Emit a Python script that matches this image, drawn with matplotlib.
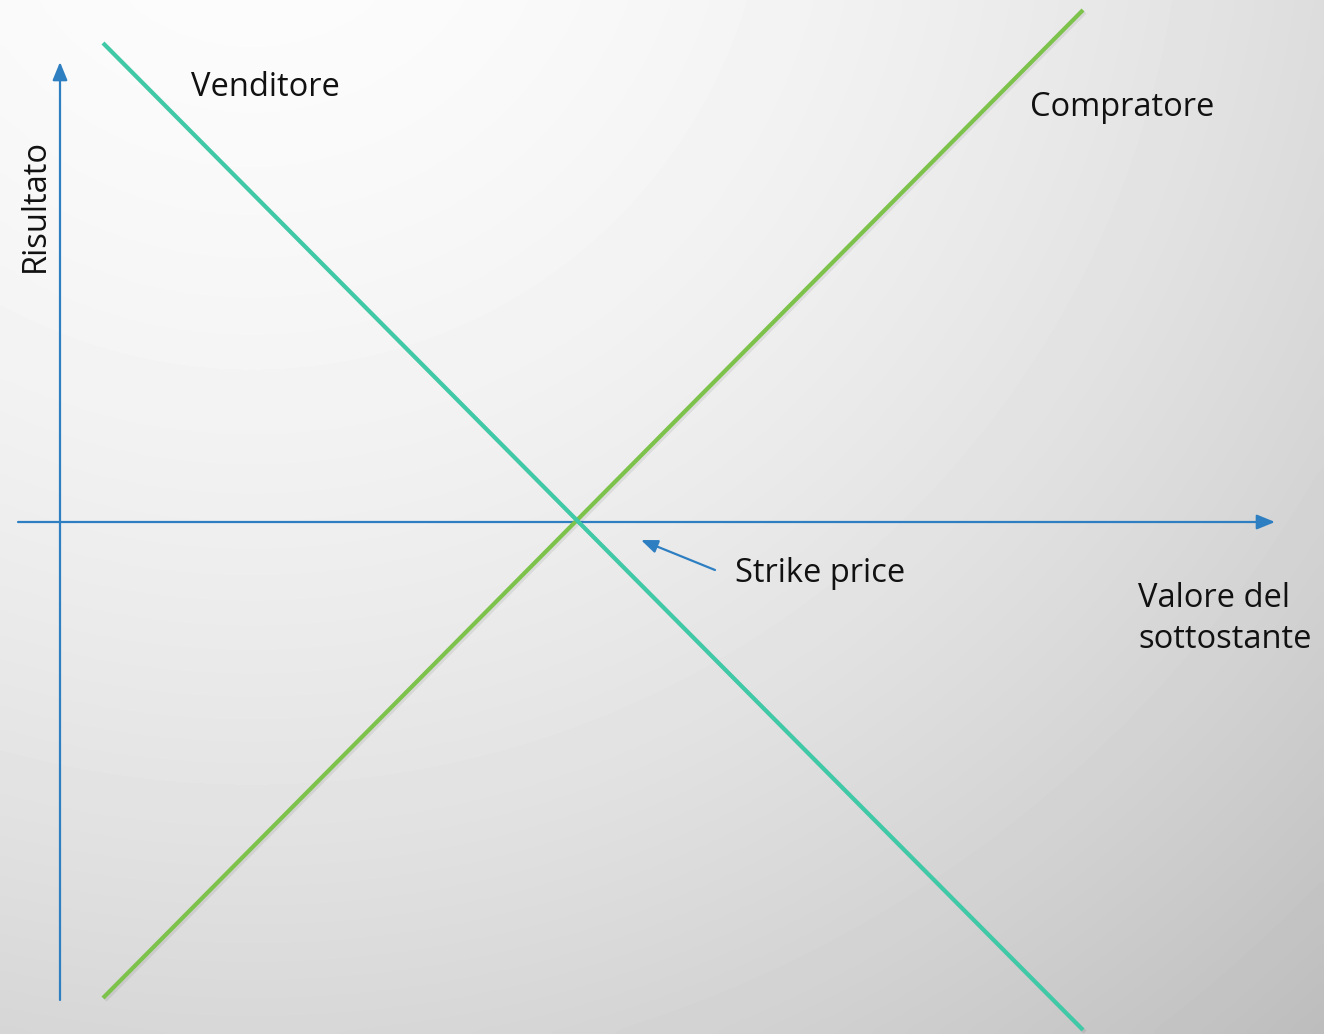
import numpy as np
import matplotlib.pyplot as plt
import matplotlib.patheffects as pe

# diagram coordinates (pixel-like units, y grows downward)
strike = (577, 522)
venditore_x = [103, 1083]
venditore_y = [43, 1030]
compratore_x = [103, 1083]
compratore_y = [998, 10]

y_axis_x = 60
y_axis_span = [1000, 62]
x_axis_y = 522
x_axis_span = [18, 1275]

labels = {
    "Venditore": (191, 88),
    "Compratore": (1030, 107),
    "Strike price": (735, 573),
    "Valore del\nsottostante": (1138, 619),
}

W, H = 1324, 1034
fig = plt.figure(figsize=(W / 100, H / 100), dpi=100)
ax = fig.add_axes([0, 0, 1, 1])
ax.set_xlim(0, W)
ax.set_ylim(H, 0)
ax.axis('off')

# background gradient
gx, gy = np.meshgrid(np.linspace(0, W, 200), np.linspace(0, H, 160))
d = np.hypot(gx - 250, gy + 150) / np.hypot(W - 250, H + 150)
shade = 0.99 - 0.25 * np.clip(d, 0, 1) ** 1.8
ax.imshow(shade, cmap='gray', vmin=0, vmax=1, extent=[0, W, H, 0],
          aspect='auto', interpolation='bicubic', zorder=0)

blue = '#2e7fc2'
shadow = [pe.SimpleLineShadow(offset=(1.5, -1.5), shadow_color='k', alpha=0.07), pe.Normal()]

# axes arrows
ax.annotate('', xy=(y_axis_x, y_axis_span[1]), xytext=(y_axis_x, y_axis_span[0]),
            arrowprops=dict(arrowstyle='-|>,head_length=1.1,head_width=0.45',
                            color=blue, lw=1.6, shrinkA=0, shrinkB=0), zorder=2)
ax.annotate('', xy=(x_axis_span[1], x_axis_y), xytext=(x_axis_span[0], x_axis_y),
            arrowprops=dict(arrowstyle='-|>,head_length=1.1,head_width=0.45',
                            color=blue, lw=1.6, shrinkA=0, shrinkB=0), zorder=2)

# payoff lines
ax.plot(compratore_x, compratore_y, color='#7dc24b', lw=3.0, solid_capstyle='butt',
        path_effects=shadow, zorder=3)
ax.plot(venditore_x, venditore_y, color='#40c9a6', lw=3.0, solid_capstyle='butt',
        path_effects=shadow, zorder=4)

# strike price pointer
ax.annotate('', xy=(641, 540), xytext=(715, 570),
            arrowprops=dict(arrowstyle='-|>,head_length=1.0,head_width=0.4',
                            color=blue, lw=1.6, shrinkA=0, shrinkB=0), zorder=2)

font = ['Open Sans', 'DejaVu Sans']
for txt, (tx, ty) in labels.items():
    ax.text(tx, ty, txt, fontsize=23.5, family=font, color='#111111',
            ha='left', va='center', linespacing=1.35, zorder=5)

ax.text(35, 206, 'Risultato', fontsize=23.5, family=font, color='#111111',
        rotation=90, ha='center', va='center', zorder=5)

fig.savefig('out.png', dpi=100)
